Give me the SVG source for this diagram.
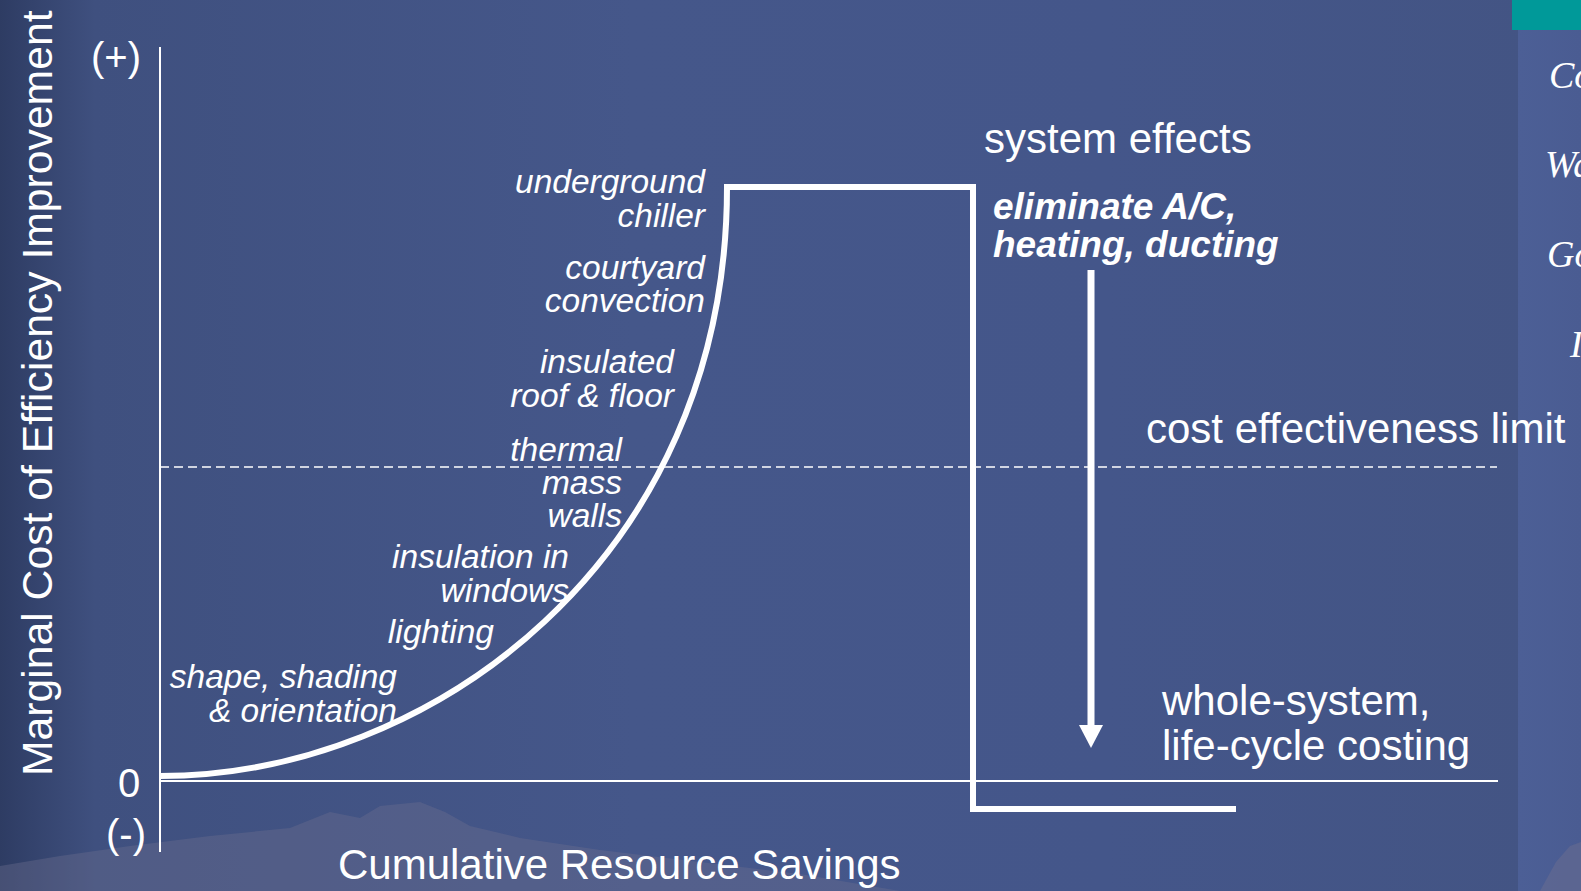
<svg xmlns="http://www.w3.org/2000/svg" width="1581" height="891" viewBox="0 0 1581 891">
<defs>
<linearGradient id="bg" x1="0" y1="0" x2="1" y2="0">
<stop offset="0" stop-color="#2e3c63"/>
<stop offset="0.06" stop-color="#3f507f"/>
<stop offset="0.4" stop-color="#45578a"/>
<stop offset="0.7" stop-color="#44568a"/>
<stop offset="1" stop-color="#435483"/>
</linearGradient>
<linearGradient id="strip" x1="0" y1="0" x2="1" y2="0">
<stop offset="0" stop-color="#4c5f96"/>
<stop offset="1" stop-color="#4a5c92"/>
</linearGradient>
<marker id="ah" viewBox="0 0 23 24" refX="0" refY="12" markerWidth="23" markerHeight="24" markerUnits="userSpaceOnUse" orient="auto">
<path d="M0,0 L23,12 L0,24 z" fill="#ffffff"/>
</marker>
<style>
.t{font-family:"Liberation Sans",Arial,sans-serif;fill:#ffffff}
.big{font-size:42px}
.lab{font-size:33.5px;font-style:italic;text-anchor:end}
.bi{font-size:37px;font-style:italic;font-weight:bold}
.ser{font-family:"Liberation Serif","Times New Roman",serif;font-style:italic;font-size:38px;fill:#ffffff}
.thin{stroke:#ffffff;stroke-width:2;fill:none}
.thick{stroke:#ffffff;stroke-width:6;fill:none}
</style>
</defs>

<g id="background">
<rect x="0" y="0" width="1581" height="891" fill="url(#bg)"/>
<path d="M0,891 L0,866 L60,856 L130,846 L210,836 L290,828 L330,812 L360,818 L380,806 L420,802 L445,812 L470,826 L520,838 L600,850 L700,862 L800,874 L900,891 Z" fill="#6b6d8f" opacity="0.4"/>
<rect x="1518" y="0" width="63" height="891" fill="url(#strip)"/>
<rect x="1512" y="0" width="69" height="30" fill="#009999"/>
<path d="M1540,891 L1556,862 L1570,846 L1581,842 L1581,891 Z" fill="#6b6d8f" opacity="0.5"/>
</g>

<g id="side-slide">
<text class="ser" x="1549" y="88">Co</text>
<text class="ser" x="1545" y="177">Wa</text>
<text class="ser" x="1547" y="267">Go</text>
<text class="ser" x="1570" y="357">I</text>
</g>

<g id="connectors">
<line id="y-axis" class="thin" x1="160" y1="47" x2="160" y2="852"/>
<line id="zero-line" class="thin" x1="160" y1="781" x2="1498" y2="781"/>
<line id="limit-line" x1="160" y1="467" x2="1497" y2="467" stroke="#ffffff" stroke-width="1.5" stroke-dasharray="9 5"/>
<path id="cost-curve" class="thick" d="M160,776 C430,776 727,560 727,187 L973,187 L973,809 L1236,809"/>
<line id="drop-arrow" x1="1091" y1="270" x2="1091" y2="725" stroke="#ffffff" stroke-width="7" marker-end="url(#ah)"/>
</g>

<g id="axis-labels">
<text class="t" font-size="42.7" transform="translate(52,776) rotate(-90)">Marginal Cost of Efficiency Improvement</text>
<text class="t" x="91" y="71" font-size="40">(+)</text>
<text class="t" x="118" y="797" font-size="40">0</text>
<text class="t" x="106" y="848" font-size="40">(-)</text>
<text class="t big" x="338" y="879">Cumulative Resource Savings</text>
</g>

<g id="measure-labels">
<text class="t lab" x="705" y="193">underground</text>
<text class="t lab" x="705" y="227">chiller</text>
<text class="t lab" x="705" y="279">courtyard</text>
<text class="t lab" x="705" y="312">convection</text>
<text class="t lab" x="674" y="373">insulated</text>
<text class="t lab" x="674" y="407">roof &amp; floor</text>
<text class="t lab" x="622" y="461">thermal</text>
<text class="t lab" x="622" y="494">mass</text>
<text class="t lab" x="622" y="527">walls</text>
<text class="t lab" x="569" y="568">insulation in</text>
<text class="t lab" x="569" y="602">windows</text>
<text class="t lab" x="494" y="643">lighting</text>
<text class="t lab" x="397" y="688">shape, shading</text>
<text class="t lab" x="397" y="722">&amp; orientation</text>
</g>

<g id="system-labels">
<text class="t big" x="984" y="153">system effects</text>
<text class="t bi" x="993" y="219">eliminate A/C,</text>
<text class="t bi" x="993" y="257">heating, ducting</text>
<text class="t" x="1146" y="443" font-size="42">cost effectiveness limit</text>
<text class="t big" x="1162" y="715">whole-system,</text>
<text class="t big" x="1162" y="760">life-cycle costing</text>
</g>
</svg>
